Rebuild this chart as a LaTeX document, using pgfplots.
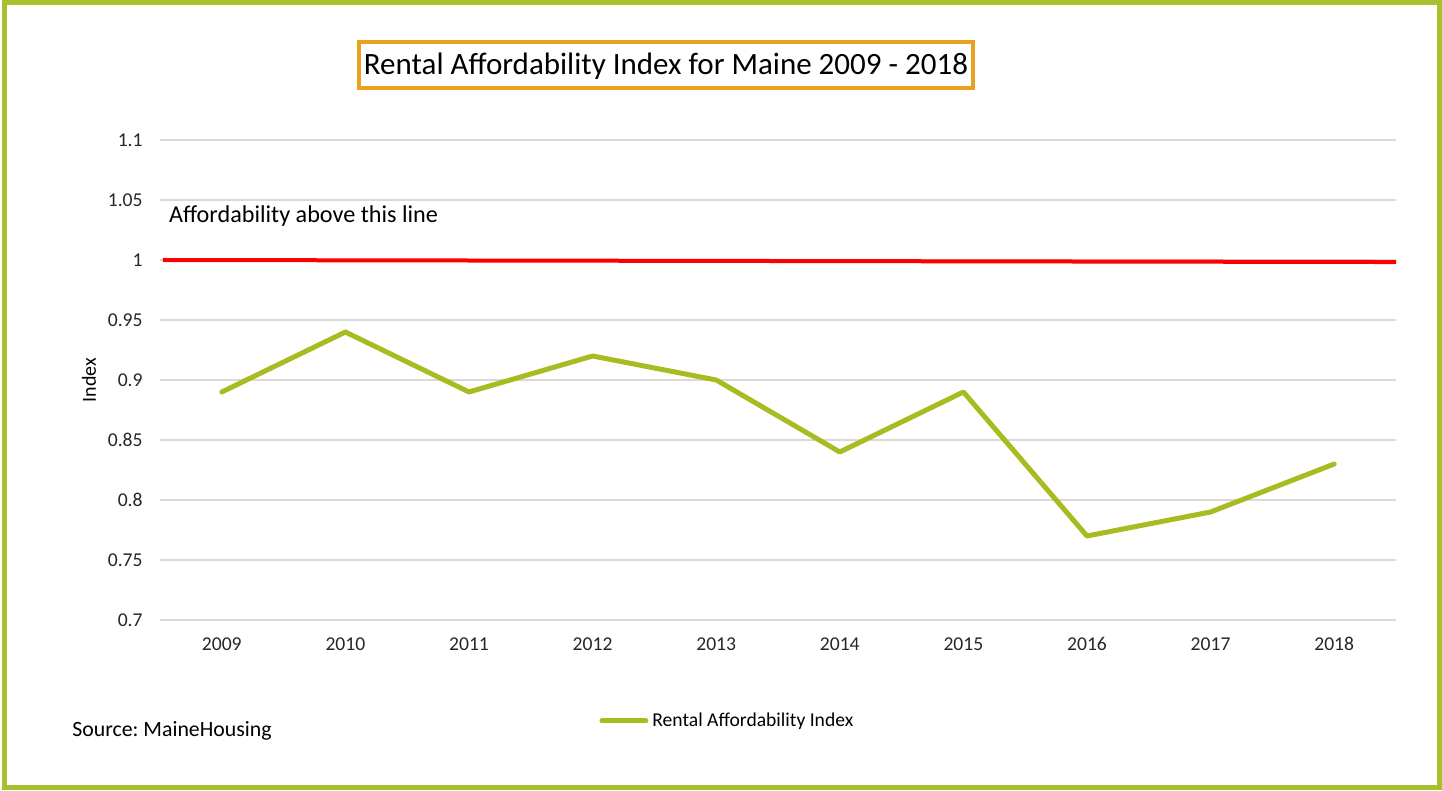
\documentclass[border=0pt]{standalone}
\usepackage{pgfplots}
\pgfplotsset{compat=1.18}
\usepackage{fontspec}
\setmainfont{Carlito}
\frenchspacing
\definecolor{olive}{HTML}{A8BC22}
\definecolor{frame}{HTML}{A9C02E}
\definecolor{titleor}{HTML}{E9A21F}
\definecolor{gridc}{HTML}{D9D9D9}
\begin{document}
\frenchspacing
\begin{tikzpicture}
\useasboundingbox (0,0) rectangle (721pt,395.5pt);
\draw[frame, line width=2.5pt] (2.25pt,1.75pt) rectangle (719.5pt,394pt);
\begin{axis}[
  at={(80pt,85.5pt)}, anchor=south west,
  scale only axis, width=618pt, height=240pt,
  xmin=-0.5, xmax=9.5, ymin=0.7, ymax=1.1,
  xtick={0,...,9},
  xticklabels={2009,2010,2011,2012,2013,2014,2015,2016,2017,2018},
  ytick={0.7,0.75,0.8,0.85,0.9,0.95,1,1.05,1.1},
  yticklabel style={/pgf/number format/fixed, /pgf/number format/precision=2, inner sep=0pt, anchor=east, xshift=-8.5pt},
  xticklabel style={inner sep=0pt, anchor=center, yshift=-12pt},
  /pgf/number format/assume math mode=true,
  tick label style={font=\fontsize{9.8pt}{11pt}\selectfont, text=black!85},
  ymajorgrids, major grid style={gridc, line width=0.75pt},
  axis line style={draw=none}, major tick length=0pt,
  ylabel={Index},
  every axis y label/.style={at={(axis description cs:-0.0574,0.5)}, rotate=90, anchor=center, font=\fontsize{10pt}{11pt}\selectfont},
  clip=false,
  legend style={at={(axis description cs:0.3552,-0.2104)}, anchor=west, draw=none, inner sep=0pt, font=\fontsize{9.8pt}{11pt}\selectfont, legend cell align=left, nodes={inner xsep=2pt}},
  legend image code/.code={\draw[#1, line cap=round] (0pt,0pt) -- (22pt,0pt);},
]
\addplot[red, line width=2pt, forget plot] coordinates {(-0.476,1.0) (9.5,0.9983)};
\addplot[olive, line width=2.5pt, line cap=round, line join=round] coordinates {
(0,0.89) (1,0.94) (2,0.89) (3,0.92) (4,0.90) (5,0.84) (6,0.89) (7,0.77) (8,0.79) (9,0.83)};
\addlegendentry{Rental Affordability Index}
\node[anchor=west, inner sep=0pt, font=\fontsize{12.1pt}{14pt}\selectfont] at (axis cs:-0.43,1.0367) {Affordability above this line};
\end{axis}
\draw[titleor, line width=2pt, fill=white] (179.5pt,351.5pt) rectangle (486.5pt,374.5pt);
\node[font=\fontsize{15.5pt}{18pt}\selectfont, inner sep=0pt] at (333pt,362.5pt) {Rental Affordability Index for Maine 2009 - 2018};
\node[anchor=west, inner sep=0pt, font=\fontsize{10.9pt}{13pt}\selectfont] at (36pt,30pt) {Source: MaineHousing};
\end{tikzpicture}
\end{document}
